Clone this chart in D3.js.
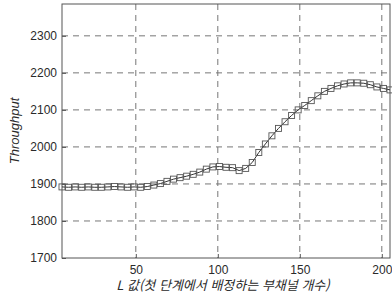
<!DOCTYPE html>
<html lang="ko">
  <head>
    <meta charset="utf-8">
    <title>Throughput vs L</title>
    <script src="https://cdn.jsdelivr.net/npm/d3@7"></script>
    <style>
      body { margin: 0; background: #fff; }
      text { font-family: "Liberation Sans", Arial, sans-serif; fill: #2a2a2a; }
      .grid line { stroke: #777; stroke-dasharray: 6,5; stroke-width: 1; }
      .line { fill: none; stroke: #333; stroke-width: 1; }
      .marker { fill: none; stroke: #555; stroke-width: 0.9; }
    </style>
  </head>
  <body>
    <script>
      // L values (x) and throughput readings (y)
      var lValues = [5, 9, 13, 17, 21, 25, 29, 33, 37, 41, 45, 49, 53, 57, 61, 65, 69, 73, 77, 81,
                     85, 89, 93, 97, 101, 105, 109, 113, 117, 121, 125, 129, 133, 137, 141, 145,
                     149, 153, 157, 161, 165, 169, 173, 177, 181, 185, 189, 193, 197, 201, 205];
      var throughput = [1892, 1891, 1892, 1891, 1892, 1891, 1891, 1892, 1893, 1892, 1891, 1892, 1891,
                        1893, 1897, 1901, 1907, 1913, 1917, 1921, 1926, 1932, 1940, 1946, 1947, 1945,
                        1944, 1936, 1942, 1958, 1985, 2008, 2030, 2050, 2068, 2085, 2100, 2112, 2125,
                        2138, 2150, 2158, 2165, 2170, 2173, 2173, 2172, 2168, 2162, 2158, 2154];
      var xTicks = [50, 100, 150, 200];
      var yTicks = [1700, 1800, 1900, 2000, 2100, 2200, 2300];

      var w = 392, h = 295;
      var padL = 62, padR = 390, padT = 4, padB = 258;

      var data = lValues.map(function(d, i) { return { x: d, y: throughput[i] }; });

      var xScale = d3.scaleLinear().domain([5, 205]).range([padL, padR]);
      var yScale = d3.scaleLinear().domain([1700, 2386]).range([padB, padT]);

      var svg = d3.select("body").append("svg")
          .attr("width", w)
          .attr("height", h);

      // grid
      var grid = svg.append("g").attr("class", "grid");
      grid.selectAll(".gx")
          .data(xTicks)
          .enter().append("line")
          .attr("x1", function(d) { return xScale(d); })
          .attr("x2", function(d) { return xScale(d); })
          .attr("y1", padT)
          .attr("y2", padB);
      grid.selectAll(".gy")
          .data(yTicks.slice(1))
          .enter().append("line")
          .attr("x1", padL)
          .attr("x2", padR)
          .attr("y1", function(d) { return yScale(d); })
          .attr("y2", function(d) { return yScale(d); });

      // frame
      svg.append("rect")
          .attr("x", padL)
          .attr("y", padT)
          .attr("width", padR - padL)
          .attr("height", padB - padT)
          .attr("fill", "none")
          .attr("stroke", "#555")
          .attr("stroke-width", 1);

      // axes
      var xAxis = d3.axisBottom(xScale).tickValues(xTicks).tickFormat(d3.format("d")).tickSize(-4).tickPadding(7);
      var yAxis = d3.axisLeft(yScale).tickValues(yTicks).tickFormat(d3.format("d")).tickSize(-4).tickPadding(5);

      var gx = svg.append("g")
          .attr("transform", "translate(0," + padB + ")")
          .call(xAxis);
      var gy = svg.append("g")
          .attr("transform", "translate(" + padL + ",0)")
          .call(yAxis);
      [gx, gy].forEach(function(g) {
        g.select(".domain").remove();
        g.selectAll(".tick line").attr("stroke", "#555");
        g.selectAll("text").style("font-size", "12px").attr("fill", "#2a2a2a");
      });

      // line and markers
      var line = d3.line()
          .x(function(d) { return xScale(d.x); })
          .y(function(d) { return yScale(d.y); });

      svg.append("path")
          .datum(data)
          .attr("class", "line")
          .attr("d", line);

      var s = 6;
      svg.selectAll(".marker")
          .data(data)
          .enter().append("rect")
          .attr("class", "marker")
          .attr("x", function(d) { return xScale(d.x) - s / 2; })
          .attr("y", function(d) { return yScale(d.y) - s / 2; })
          .attr("width", s)
          .attr("height", s);

      // titles
      svg.append("text")
          .attr("x", (padL + padR) / 2 - 3)
          .attr("y", 290)
          .attr("text-anchor", "middle")
          .style("font-size", "13px")
          .style("font-style", "italic")
          .style("font-family", "'Noto Sans CJK KR', sans-serif")
          .text("L 값(첫 단계에서 배정하는 부채널 개수)");

      svg.append("text")
          .attr("transform", "translate(19,131) rotate(-90)")
          .attr("text-anchor", "middle")
          .style("font-size", "13px")
          .style("font-style", "italic")
          .text("Throughput");
    </script>
  </body>
</html>
